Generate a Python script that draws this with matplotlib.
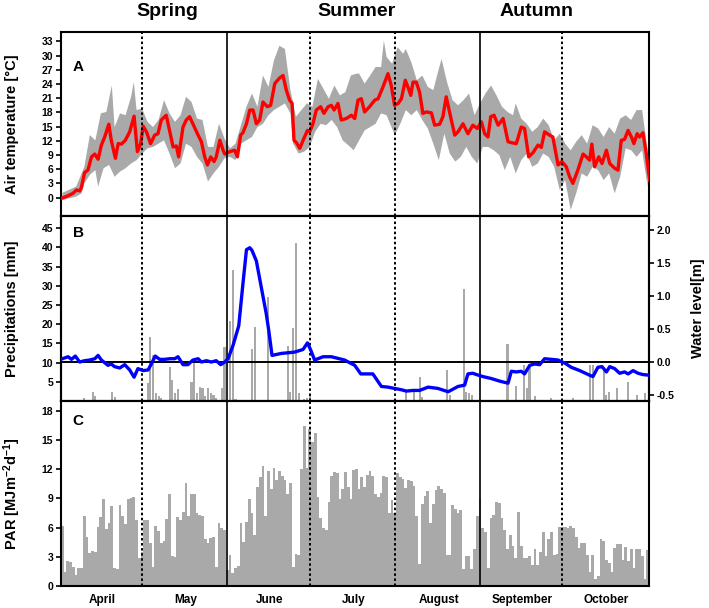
import numpy as np
import matplotlib
matplotlib.use("Agg")
import matplotlib.pyplot as plt

plt.rcParams['font.family'] = ['Liberation Sans', 'DejaVu Sans']
plt.rcParams['font.weight'] = 'bold'
plt.rcParams['mathtext.default'] = 'regular'

# ---------------- data (day index 0 = 1 April) ----------------
months = ['April', 'May', 'June', 'July', 'August', 'September', 'October']
month_len = [30, 31, 30, 31, 31, 30, 31]
seasons = ['Spring', 'Summer', 'Autumn']

# Panel A: mean air temperature (line vertices) and daily range envelope
temp_day = [0, 2.1, 3.9, 5.1, 6.3, 6.9, 8.1, 9.3, 10.6, 11.8, 13, 14.2, 15.4, 16.9, 17.8, 19.3, 20.3,
            21.5, 22.9, 24.5, 26.1, 27.3, 28.5, 29.4, 30.6, 32.1, 33.6, 34.8, 36, 37.8, 39.1, 40.3,
            41.5, 42.3, 43.9, 45.1, 46.3, 47.5, 49.4, 50.6, 51.8, 52.8, 54, 55.2, 56, 57.3, 58.5,
            59.1, 60.9, 62.7, 63.7, 64.9, 65.7, 67, 68.2, 69.4, 70.6, 71.8, 73, 74.6, 75.8, 77.3,
            79.1, 80.3, 81.5, 82.7, 83.6, 84.3, 85.2, 86.4, 87.6, 89.2, 90, 91.2, 92.4, 94, 95.2,
            96.7, 97.9, 98.9, 100.3, 101.5, 103.3,
            105.2, 106.4, 107.6, 108.8, 110, 111.8, 113.7, 114.9, 116.7, 118.5, 119.7, 120.9, 122.2,
            123.4, 124.8, 126, 126.8, 127.6, 128.8, 130, 131.2, 132.5, 134.3, 135.5, 137.3, 138.5,
            139.7, 140.9, 142.8, 144, 145.8, 147.6, 149.4, 151, 152.5, 153.7, 154.9, 155.9, 157.1,
            158.6, 160.4, 162.2, 163.4, 165.2, 167, 168.2, 169.7, 171.3, 173.1, 174.3, 175.5, 177.3,
            178.5, 180.4, 181.8, 183.4, 184.6, 185.8, 187.6, 189.5, 190.7, 191.9, 192.7, 193.7,
            195.2, 196.4, 198, 199.2, 201, 202.2, 203.4, 204.6, 205.9, 207.1, 208, 209.2, 210.1,
            211.3, 212.5, 213.7]
temp_mean = [-0.1, 0.4, 0.9, 1.6, 1.4, 2.1, 5.3, 5.8, 8.6, 9.2, 8.1, 11.1, 12.8, 15.5, 12.1, 8.3, 11.4,
             11.3, 12.1, 13.9, 17.2, 9.7, 11.4, 15.1, 13.9, 11.4, 13.2, 13.5, 16.4, 17.4, 13.9, 10.7,
             10.9, 8.6, 14.9, 16.4, 17.1, 15.6, 13.2, 11.8, 8.6, 6.9, 8.6, 7.6, 8.6, 12.1, 10.0,
             9.2, 9.7, 10.0, 8.6, 13.2, 13.7, 15.6, 18.5, 18.5, 15.6, 16.4, 20.2, 19.2, 19.5, 24.1,
             25.3, 25.8, 22.7, 20.6, 19.9, 12.1, 11.6, 10.4, 12.1, 14.2, 13.9, 15.6, 18.5, 19.2,
             17.8, 19.2, 19.5, 18.5, 19.9, 16.4, 16.7,
             17.4, 16.7, 20.6, 20.9, 18.1, 19.2, 20.6, 20.9, 23.4, 26.2, 23.7, 19.5, 19.9,
             20.9, 24.8, 23.0, 21.6, 24.4, 24.4, 22.3, 17.8, 18.1, 17.9, 15.3, 15.5, 17.1,
             21.3, 18.1, 13.2, 13.9, 15.6, 13.5, 15.3, 14.6, 16.0, 13.5, 12.8, 17.1, 17.4,
             15.3, 16.7, 11.8, 11.6, 11.4, 14.9, 14.6, 8.6, 9.5, 11.1, 10.6, 13.9, 13.2,
             12.8, 6.9, 7.6, 6.5, 4.4, 3.0, 5.8, 9.2, 8.6, 7.9, 11.3, 6.5,
             8.6, 7.2, 10.0, 7.2, 6.2, 5.8, 12.1, 12.3, 14.2, 12.8, 11.4, 13.5, 12.8,
             13.7, 9.3, 3.7]

temp_hi_day = [0, 5, 8, 10, 12, 14, 16, 18, 19, 21, 23, 25, 26, 27, 29, 31, 33, 35, 37, 39,
               41, 43, 45, 47, 49, 51, 53, 55, 57, 59, 61, 63, 65, 67, 69, 71, 73, 75, 77, 79,
               81, 83, 85, 87, 89, 91, 93, 95, 97, 99, 101, 103, 105, 107, 108, 110, 112, 114, 116, 117,
               118, 120, 122, 124, 125, 127, 129, 131, 133, 135, 137, 138, 140, 142, 144, 146, 148, 150, 152, 154,
               156, 158, 160, 162, 164, 165, 167, 169, 171, 173, 175, 177, 179, 181, 183, 185, 187, 189, 191, 193,
               195, 197, 199, 201, 203, 205, 207, 209, 211, 213]
temp_hi = [1.0, 2.3, 6.5, 13.2, 12.1, 17.8, 18.1, 23.7, 14.9, 17.8, 17.4, 21.3, 24.4, 18.5, 18.8, 16.0, 14.9, 16.4, 20.6, 17.8,
           16.0, 17.4, 21.3, 20.2, 16.7, 16.4, 10.7, 10.7, 15.6, 12.5, 10.4, 11.4, 15.3, 19.2, 22.0, 19.2, 25.8, 23.4, 29.0, 32.1,
           31.4, 22.7, 17.1, 18.5, 19.9, 19.2, 25.1, 23.0, 20.9, 23.7, 21.6, 22.3, 25.8, 26.2, 26.2, 24.1, 25.8, 27.6, 27.6, 33.2,
           29.7, 28.3, 31.8, 30.4, 31.4, 28.6, 24.8, 25.8, 23.4, 22.7, 27.2, 29.3, 24.4, 20.6, 19.5, 20.6, 22.0, 17.4, 19.9, 22.0,
           23.7, 21.6, 19.2, 18.1, 17.4, 19.9, 16.7, 15.6, 13.9, 14.9, 16.7, 15.3, 12.1, 13.5, 11.4, 10.0, 11.8, 13.2, 11.4, 15.3,
           14.6, 12.8, 14.9, 13.5, 16.7, 17.4, 16.4, 18.5, 18.5, 10.0]

temp_lo_day = [0, 3, 5, 7, 8, 10, 12, 13, 15, 17, 19, 21, 23, 25, 27, 29, 31, 33, 35, 37,
               39, 41, 43, 45, 47, 49, 51, 53, 55, 57, 59, 61, 63, 65, 67, 69, 71, 73, 75, 77,
               79, 81, 83, 84, 86, 88, 90, 92, 94, 96, 98, 100, 102, 104, 106, 108, 110, 112, 114, 116,
               118, 120, 121, 123, 125, 127, 129, 131, 133, 135, 137, 139, 141, 143, 145, 147, 149, 151, 153, 155,
               157, 159, 161, 163, 165, 167, 169, 171, 173, 175, 177, 179, 181, 183, 185, 187, 189, 191, 193, 195,
               197, 199, 201, 203, 205, 207, 209, 211, 213]
temp_lo = [-0.5, -0.1, 0.2, 0.9, 3.0, 4.8, 5.8, 2.3, 6.2, 6.9, 4.4, 5.5, 6.2, 7.2, 7.9, 9.3, 10.4, 10.7, 11.4, 12.1,
           9.3, 6.2, 7.2, 11.4, 10.7, 8.6, 7.2, 3.4, 5.1, 6.5, 8.3, 8.6, 7.9, 11.4, 12.1, 12.8, 14.9, 15.6, 17.4, 18.5,
           19.2, 19.9, 17.8, 11.4, 9.3, 9.7, 10.7, 13.9, 15.6, 15.3, 16.4, 14.9, 12.1, 11.1, 10.0, 12.1, 14.2, 14.9, 15.6, 17.8,
           17.4, 14.6, 13.2, 15.6, 18.5, 17.4, 18.5, 16.4, 14.6, 11.4, 7.9, 13.5, 9.3, 7.6, 8.6, 10.7, 8.6, 7.2, 10.7, 10.7,
           10.0, 9.0, 5.8, 8.6, 5.1, 7.9, 9.3, 6.5, 7.2, 9.3, 8.6, 6.5, 1.6, 3.7, -2.6, 0.9, 5.1, 4.4, 6.5, 5.8,
           3.7, 5.1, 0.9, 4.4, 10.4, 10.0, 8.6, 10.0, 2.3]

# Panel B: precipitation (days with rain) and water level
prec_day = [8, 11, 12, 18, 19, 31, 32, 33, 34, 35, 36, 39, 40, 41, 42, 47, 48, 49, 50, 51,
            52, 53, 54, 55, 56, 58, 59, 61, 62, 63, 69, 70, 75, 82, 83, 84, 85, 86, 88, 89,
            90, 125, 128, 130, 131, 140, 141, 146, 147, 148, 149, 162, 165, 168, 169, 170, 172, 178, 186,
            192, 193, 197, 198, 199, 202, 206, 209, 212]
prec_mm = [0.9, 2.4, 1.3, 2.4, 1.1, 4.6, 16.7, 11.9, 2.0, 1.3, 0.9, 8.9, 5.5, 2.0, 3.0, 5.0, 9.8, 2.0, 3.7, 3.3,
           1.3, 3.3, 2.0, 1.6, 0.7, 3.3, 14.1, 20.8, 34.2, 0.4, 13.6, 19.3, 27.1, 14.3, 2.3, 19.0, 41.1, 2.2, 0.6, 0.9,
           1.7, 2.6, 2.6, 6.2, 1.1, 8.2, 1.6, 29.3, 2.4, 2.0, 1.6, 14.8, 4.0, 9.4, 3.3, 8.9, 1.3, 0.7, 0.7,
           9.4, 9.4, 8.7, 1.6, 2.4, 3.3, 5.0, 1.6, 2.2]

level_day = [0, 2.1, 3.3, 4.7, 6.3, 8.1, 9.9, 11.8, 13, 14.2, 16.6, 17.8, 19, 20.9, 22.7, 24.5, 26.1,
             27.5, 29.4, 31.2, 32.1, 33.8, 35.4, 37.2, 39.1, 40.9, 42.1, 43.9, 45.7, 47.5, 49.4, 50.6,
             52.4, 54.2, 56, 57.6, 59.1, 60.3, 62.1, 64.2, 65.7, 67, 68.2, 69, 70.6, 72.4, 74.2, 75.1,
             76.3, 79.7, 84.5, 87.6, 89.2, 90.4, 91.8, 94.9, 97.9, 102.7, 106.4, 108.6,
             111.2, 113, 116.1, 118.5, 120.9, 123.4, 125.2, 127.6, 130, 133.1, 136.7, 140.4, 144,
             146.4, 147.6, 149.4, 150.7, 153, 156.1, 159.2, 162.2, 163.4, 165.2, 167, 168.2, 170.1,
             171.9, 173.7, 175.5, 178, 180.4, 183, 185.2, 188.3, 191.9, 193.1, 194.9, 196.4, 198,
             199.2, 201, 202.8, 204.6, 205.9, 207.7, 209.5, 211.3, 213.7]
level_m = [0.05, 0.08, 0.04, 0.09, 0.0, 0.02, 0.03, 0.05, 0.10, 0.03, -0.05, -0.03, -0.07, -0.09, -0.04, -0.12, -0.23,
           -0.10, -0.13, -0.12, -0.05, 0.09, 0.04, 0.04, 0.05, 0.05, 0.08, -0.04, -0.04, 0.03, 0.05, 0.0,
           0.02, 0.0, 0.02, -0.04, 0.0, 0.05, 0.25, 0.55, 1.18, 1.70, 1.73, 1.69, 1.53, 1.13, 0.73, 0.48,
           0.10, 0.13, 0.15, 0.19, 0.29, 0.18, 0.03, 0.08, 0.08, 0.03, -0.05, -0.18,
           -0.18, -0.18, -0.37, -0.38, -0.40, -0.42, -0.44, -0.43, -0.43, -0.38, -0.40, -0.45, -0.37,
           -0.35, -0.18, -0.17, -0.19, -0.22, -0.25, -0.29, -0.32, -0.14, -0.15, -0.14, -0.18, -0.05,
           -0.03, -0.04, 0.05, 0.04, 0.03, -0.02, -0.08, -0.13, -0.20, -0.22, -0.08, -0.07, -0.15,
           -0.07, -0.10, -0.17, -0.15, -0.18, -0.13, -0.17, -0.19, -0.20]

# Panel C: daily PAR, one value per day, April..October
par_apr = [6.2, 1.4, 2.6, 2.5, 2.0, 1.1, 1.8, 1.8, 7.2, 5.0, 3.4, 3.6, 3.5, 6.1, 7.1, 8.9, 5.9, 6.5, 8.2, 1.8,
           1.7, 8.3, 7.2, 6.4, 8.9, 9.0, 9.1, 6.8, 2.9, 3.5]
par_may = [6.8, 6.8, 4.4, 2.0, 6.2, 5.6, 4.4, 4.6, 6.9, 9.5, 3.1, 3.0, 7.1, 6.8, 7.6, 10.6, 7.2, 9.5, 9.5, 7.5,
           7.3, 7.2, 4.8, 4.4, 4.9, 5.0, 2.0, 6.5, 6.0, 5.8, 1.6]
par_jun = [3.2, 1.3, 1.8, 2.1, 6.5, 4.5, 6.6, 8.9, 7.5, 5.2, 10.2, 11.2, 12.3, 7.2, 11.8, 10.0, 12.1, 10.9, 11.8, 11.3,
           10.9, 9.5, 10.6, 2.0, 3.3, 3.2, 12.0, 16.4, 12.1, 16.1]
par_jul = [14.8, 15.7, 9.1, 7.0, 6.0, 5.8, 8.6, 11.3, 11.7, 11.6, 8.9, 10.0, 11.7, 10.2, 8.9, 11.9, 12.0, 10.0, 11.2, 10.2,
           11.4, 11.8, 11.3, 9.4, 9.1, 9.6, 11.3, 11.2, 7.5, 8.8, 7.5]
par_aug = [11.6, 11.2, 11.0, 10.1, 10.9, 10.8, 10.3, 7.2, 2.3, 8.4, 9.2, 9.8, 6.5, 8.4, 9.9, 10.3, 10.0, 9.6, 3.2, 3.2,
           8.3, 7.9, 7.5, 7.8, 1.7, 3.1, 3.1, 1.7, 3.8, 7.2, 8.9]
par_sep = [6.0, 5.5, 1.8, 7.0, 7.3, 8.6, 8.5, 7.0, 5.8, 3.8, 5.2, 4.1, 2.9, 7.6, 4.1, 2.9, 2.9, 3.1, 2.2, 3.8,
           2.2, 3.5, 5.5, 3.1, 4.8, 5.5, 3.2, 3.3, 6.1, 6.1]
par_oct = [6.1, 6.0, 6.2, 6.0, 5.0, 3.9, 4.4, 4.4, 3.2, 1.4, 3.2, 0.7, 1.0, 4.8, 4.6, 2.7, 2.4, 1.4, 3.9, 4.3,
           4.3, 2.7, 4.0, 2.6, 3.8, 1.9, 3.8, 3.8, 3.1, 0.7, 3.7]

# ---------------- derived ----------------
par = np.concatenate([par_apr, par_may, par_jun, par_jul, par_aug, par_sep, par_oct])
n_days = int(np.sum(month_len))
month_start = np.concatenate([[0], np.cumsum(month_len)[:-1]])
month_mid = month_start + np.array(month_len) / 2.0
month_end = np.cumsum(month_len)[:-1] - 0.5      # last day of each month
season_end = [month_end[1], month_end[4]]       # end of May, end of August
dash_lines = [month_end[0], month_end[2], month_end[3], month_end[5]]

GRAY = '#a9a9a9'
TICK_FS = 7.5
LABEL_FS = 10.5

fig = plt.figure(figsize=(7.09, 6.08), dpi=100)
L, W = 61 / 709, 588 / 709
axA = fig.add_axes([L, 1 - 216 / 608, W, 184 / 608])
axB = fig.add_axes([L, 1 - 401 / 608, W, 185 / 608])
axC = fig.add_axes([L, 1 - 586 / 608, W, 185 / 608])

for ax in (axA, axB, axC):
    ax.set_xlim(0, n_days)
    for sp in ax.spines.values():
        sp.set_linewidth(1.5)
    ax.tick_params(axis='y', direction='out', length=3.5, width=1.2, labelsize=TICK_FS, pad=2)
    for x in season_end:
        ax.axvline(x, color='black', lw=1.2, zorder=5)
    for x in dash_lines:
        ax.axvline(x, color='black', lw=1.4, ls=(0, (1.3, 1.3)), zorder=5)

# ---- Panel A ----
poly_x = np.concatenate([np.array(temp_hi_day, float), np.array(temp_lo_day, float)[::-1]])
poly_y = np.concatenate([temp_hi, np.array(temp_lo)[::-1]])
axA.fill(poly_x + 0.5, poly_y, color=GRAY, lw=0, zorder=1)
axA.plot(np.array(temp_day) + 0.5, temp_mean, color='#ff0000', lw=2.4, zorder=3,
         solid_joinstyle='round')
axA.set_ylim(-3.9, 35)
axA.set_yticks(np.arange(0, 34, 3))
axA.set_xticks([])
axA.set_ylabel('Air temperature [°C]', fontsize=LABEL_FS, fontweight='bold', va='center')
axA.yaxis.set_label_coords(-0.083, 0.5)
axA.text(0.02, 0.81, 'A', transform=axA.transAxes, fontsize=11, fontweight='bold',
         ha='left', va='center')
for name, xpos in zip(seasons, [38.6, 107.7, 173.0]):
    axA.text(xpos, 1.109, name, transform=axA.get_xaxis_transform(), fontsize=14,
             fontweight='bold', ha='center', va='center')

# ---- Panel B ----
axB.bar(np.array(prec_day) + 0.5, prec_mm, width=0.75, color=GRAY, lw=0, zorder=1)
axB.set_ylim(0, 48.2)
axB.set_yticks(np.arange(5, 46, 5))
axB.set_xticks([])
axB.set_ylabel('Precipitations [mm]', fontsize=LABEL_FS, fontweight='bold', va='center')
axB.yaxis.set_label_coords(-0.083, 0.5)
axB.text(0.02, 0.91, 'B', transform=axB.transAxes, fontsize=11, fontweight='bold',
         ha='left', va='center')
axB2 = axB.twinx()
axB2.set_xlim(0, n_days)
axB2.axhline(0, color='black', lw=1.4, zorder=2)
axB2.plot(np.array(level_day) + 0.5, level_m, color='#0000ff', lw=2.4, zorder=3,
          solid_joinstyle='round')
axB2.set_ylim(-0.59, 2.21)
axB2.set_yticks([-0.5, 0.0, 0.5, 1.0, 1.5, 2.0])
axB2.set_yticklabels(['-0.5', '0.0', '0.5', '1.0', '1.5', '2.0'])
axB2.tick_params(axis='y', direction='out', length=3.5, width=1.2, labelsize=TICK_FS, pad=2)
for sp in axB2.spines.values():
    sp.set_linewidth(1.5)
axB2.set_ylabel('Water level[m]', fontsize=LABEL_FS, fontweight='bold', va='center')
axB2.yaxis.set_label_coords(1.083, 0.5)

# ---- Panel C ----
axC.bar(np.arange(n_days), par, width=1.0, align='edge', color=GRAY, lw=0, zorder=1)
axC.set_ylim(0, 19)
axC.set_yticks(np.arange(0, 19, 3))
axC.set_ylabel(r'PAR [MJm$^{-2}$d$^{-1}$]', fontsize=LABEL_FS, fontweight='bold', va='center')
axC.yaxis.set_label_coords(-0.083, 0.5)
axC.text(0.02, 0.89, 'C', transform=axC.transAxes, fontsize=11, fontweight='bold',
         ha='left', va='center')
axC.set_xticks(month_mid)
axC.set_xticklabels(months, fontsize=8.5, fontweight='bold')
axC.tick_params(axis='x', length=0, pad=6)

for ax in (axA, axB, axB2, axC):
    for lab in ax.get_yticklabels() + ax.get_xticklabels():
        lab.set_fontweight('bold')

fig.savefig('out.png', dpi=100)
